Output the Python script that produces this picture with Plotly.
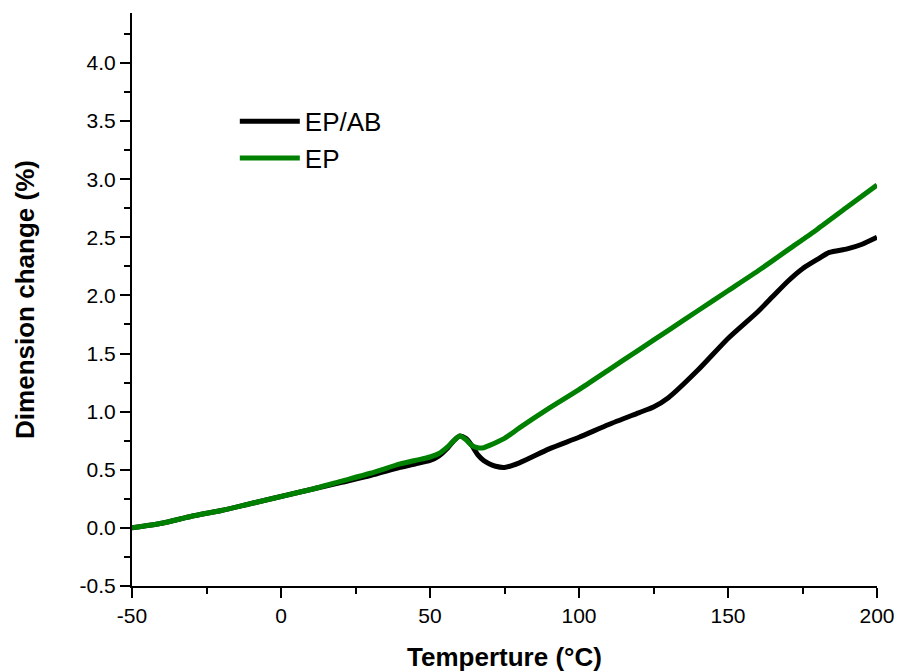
import plotly.graph_objects as go

# EP/AB (black)
x_epab = [-50, -40, -30, -20, -10, 0, 10, 20, 30, 40, 45, 50, 53, 56, 58, 60, 62, 64, 66, 68, 70, 72, 75,
          80, 90, 100, 110, 120, 125, 130, 140, 150, 160, 165, 170, 175, 180, 184, 190, 195, 200]
y_epab = [0.00, 0.04, 0.10, 0.15, 0.21, 0.27, 0.33, 0.39, 0.45, 0.52, 0.55, 0.58, 0.62, 0.69, 0.75, 0.79,
          0.77, 0.71, 0.63, 0.58, 0.55, 0.53, 0.52, 0.56, 0.68, 0.78, 0.89, 0.99, 1.04, 1.12, 1.36, 1.63,
          1.86, 1.99, 2.12, 2.23, 2.31, 2.37, 2.40, 2.44, 2.50]

# EP (green)
x_ep = [-50, -40, -30, -20, -10, 0, 10, 20, 30, 40, 45, 50, 53, 56, 58, 60, 62, 64, 66, 68, 70, 75,
        80, 90, 100, 110, 120, 130, 140, 150, 160, 170, 180, 190, 200]
y_ep = [0.00, 0.04, 0.10, 0.15, 0.21, 0.27, 0.33, 0.40, 0.47, 0.55, 0.58, 0.61, 0.64, 0.70, 0.75, 0.79,
        0.76, 0.71, 0.69, 0.69, 0.71, 0.77, 0.86, 1.03, 1.19, 1.36, 1.53, 1.70, 1.87, 2.04, 2.21, 2.39,
        2.57, 2.76, 2.95]

x_ticks = [-50, 0, 50, 100, 150, 200]
x_ticktext = ["-50", "0", "50", "100", "150", "200"]
y_ticks = [-0.5, 0.0, 0.5, 1.0, 1.5, 2.0, 2.5, 3.0, 3.5, 4.0]
y_ticktext = ["-0.5", "0.0", "0.5", "1.0", "1.5", "2.0", "2.5", "3.0", "3.5", "4.0"]

FONT = "Liberation Sans, Arial, sans-serif"

fig = go.Figure()
fig.add_trace(go.Scatter(x=x_epab, y=y_epab, mode="lines", name="EP/AB",
                         line=dict(color="#000000", width=5, shape="spline", smoothing=0.6)))
fig.add_trace(go.Scatter(x=x_ep, y=y_ep, mode="lines", name="EP",
                         line=dict(color="#008000", width=5, shape="spline", smoothing=0.6)))

axis_common = dict(
    showline=True, linecolor="black", linewidth=2,
    ticks="outside", ticklen=10, tickwidth=2, tickcolor="black",
    showgrid=False, zeroline=False, automargin=False,
    tickfont=dict(family=FONT, size=21, color="black"),
)

fig.update_xaxes(range=[-50, 200], tickvals=x_ticks, ticktext=x_ticktext,
                 minor=dict(ticks="outside", ticklen=6, tickwidth=2, tickcolor="black", dtick=25, tick0=-50),
                 title=dict(text="<b>Temperture (°C)</b>", font=dict(family=FONT, size=26, color="black"),
                            standoff=32),
                 **axis_common)
fig.update_yaxes(range=[-0.5, 4.43], tickvals=y_ticks, ticktext=y_ticktext,
                 minor=dict(ticks="outside", ticklen=6, tickwidth=2, tickcolor="black", dtick=0.25, tick0=-0.5),
                 title=dict(text="<b>Dimension change (%)</b>", font=dict(family=FONT, size=26, color="black"),
                            standoff=38),
                 **axis_common)

fig.update_layout(
    width=899, height=672,
    margin=dict(l=132, r=22, t=13, b=86),
    paper_bgcolor="white", plot_bgcolor="white",
    showlegend=True,
    legend=dict(x=0.138, y=0.852, xanchor="left", yanchor="top",
                font=dict(family=FONT, size=26, color="black"),
                bgcolor="rgba(0,0,0,0)", itemwidth=60, tracegroupgap=0),
)

fig.write_html("out.html", config={"displayModeBar": False},
               post_script="document.body.style.margin='0';document.body.style.overflow='hidden';")
